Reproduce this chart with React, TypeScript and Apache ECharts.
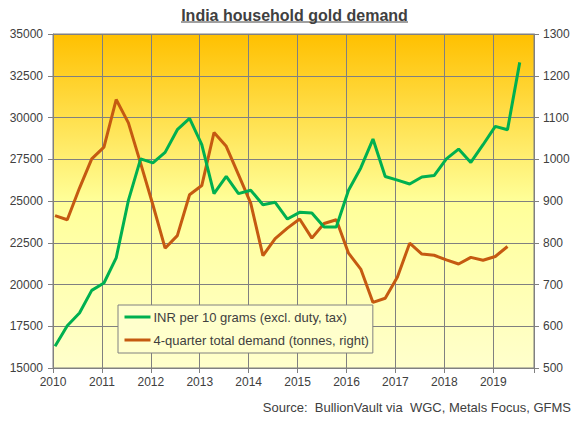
import React, { useEffect, useRef } from "react";
import * as echarts from "echarts";

const quarters = [
  "2010Q1", "2010Q2", "2010Q3", "2010Q4",
  "2011Q1", "2011Q2", "2011Q3", "2011Q4",
  "2012Q1", "2012Q2", "2012Q3", "2012Q4",
  "2013Q1", "2013Q2", "2013Q3", "2013Q4",
  "2014Q1", "2014Q2", "2014Q3", "2014Q4",
  "2015Q1", "2015Q2", "2015Q3", "2015Q4",
  "2016Q1", "2016Q2", "2016Q3", "2016Q4",
  "2017Q1", "2017Q2", "2017Q3", "2017Q4",
  "2018Q1", "2018Q2", "2018Q3", "2018Q4",
  "2019Q1", "2019Q2", "2019Q3",
];

const inrPer10g = [
  16300, 17530, 18290, 19650, 20090, 21590, 25040, 27520, 27280, 27910,
  29270, 29950, 28370, 25440, 26470, 25440, 25640, 24780, 24920, 23920,
  24320, 24280, 23440, 23440, 25640, 26980, 28710, 26470, 26250, 26020,
  26440, 26520, 27520, 28110, 27310, 28370, 29470, 29270, 33300,
];

const demandTonnes = [
  865, 855, 931, 1001, 1029, 1143, 1087, 990, 891, 787,
  817, 915, 937, 1064, 1031, 963, 895, 769, 810, 835,
  857, 811, 846, 855, 775, 737, 657, 667, 718, 799,
  773, 770, 759, 749, 765, 758, 767, 791,
];

const yearTicks = [2010, 2011, 2012, 2013, 2014, 2015, 2016, 2017, 2018, 2019];
const leftAxisRange = [15000, 35000, 2500];
const rightAxisRange = [500, 1300, 100];

const seriesNames = [
  "INR per 10 grams (excl. duty, tax)",
  "4-quarter total demand (tonnes, right)",
];
const seriesColors = ["#00B050", "#C55A11"];
const titleText = "India household gold demand";
const sourceText = "Source:  BullionVault via  WGC, Metals Focus, GFMS";

// quarterly points sit in the middle of the quarter's first month (date axis)
const quarterX = (q: string) => {
  const [y, n] = q.split("Q");
  return Number(y) + ((Number(n) - 1) * 3 + 0.5) / 12;
};

const FONT = "'Liberation Sans', Arial, sans-serif";
const TXT = "#404040";
const GRID = "#808080";

export default function App() {
  const ref = useRef<HTMLDivElement>(null);

  useEffect(() => {
    document.body.style.margin = "0";
    const chart = echarts.init(ref.current!, null, { renderer: "svg" });
    const inrData = inrPer10g.map((v, i) => [quarterX(quarters[i]), v]);
    const demData = demandTonnes.map((v, i) => [quarterX(quarters[i]), v]);
    const plain = (v: number) => String(v);

    chart.setOption({
      animation: false,
      textStyle: { fontFamily: FONT },
      grid: {
        left: 53,
        right: 43,
        top: 34,
        bottom: 55,
        show: true,
        borderColor: GRID,
        borderWidth: 1,
        backgroundColor: new echarts.graphic.LinearGradient(0, 0, 0, 1, [
          { offset: 0, color: "#FFC000" },
          { offset: 0.5, color: "#FFFF99" },
          { offset: 1, color: "#FFFFCC" },
        ]),
      },
      xAxis: {
        type: "value",
        min: yearTicks[0],
        max: yearTicks[yearTicks.length - 1] + 10 / 12,
        interval: 1,
        axisLine: { show: true, lineStyle: { color: GRID, width: 1 } },
        axisTick: { show: true, length: 5, lineStyle: { color: GRID } },
        splitLine: { show: true, lineStyle: { color: GRID, width: 1 } },
        axisLabel: {
          color: TXT,
          fontSize: 12,
          fontFamily: FONT,
          margin: 8,
          formatter: (v: number) =>
            yearTicks.includes(Math.round(v * 1000) / 1000) ? String(Math.round(v)) : "",
        },
      },
      yAxis: [
        {
          type: "value",
          min: leftAxisRange[0],
          max: leftAxisRange[1],
          interval: leftAxisRange[2],
          position: "left",
          axisLine: { show: true, lineStyle: { color: GRID, width: 1 } },
          axisTick: { show: true, length: 5, lineStyle: { color: GRID } },
          splitLine: { show: true, lineStyle: { color: GRID, width: 1 } },
          axisLabel: { color: TXT, fontSize: 12, fontFamily: FONT, margin: 10, formatter: plain },
        },
        {
          type: "value",
          min: rightAxisRange[0],
          max: rightAxisRange[1],
          interval: rightAxisRange[2],
          position: "right",
          axisLine: { show: true, lineStyle: { color: GRID, width: 1 } },
          axisTick: { show: true, length: 5, lineStyle: { color: GRID } },
          splitLine: { show: false },
          axisLabel: { color: TXT, fontSize: 12, fontFamily: FONT, margin: 9, formatter: plain },
        },
      ],
      legend: {
        orient: "vertical",
        left: 118,
        top: 305,
        backgroundColor: "#FFFFCC",
        borderColor: GRID,
        borderWidth: 1,
        borderRadius: 0,
        padding: [5, 4, 6, 6.5],
        itemGap: 9,
        itemWidth: 26,
        itemHeight: 3,
        textStyle: { color: TXT, fontSize: 13, fontFamily: FONT, lineHeight: 14, padding: [0, 0, 0, -2] },
        data: seriesNames.map((name) => ({ name, icon: "rect" })),
      },
      series: [
        {
          name: seriesNames[0],
          type: "line",
          yAxisIndex: 0,
          data: inrData,
          symbol: "none",
          lineStyle: { color: seriesColors[0], width: 3 },
          itemStyle: { color: seriesColors[0] },
          z: 3,
        },
        {
          name: seriesNames[1],
          type: "line",
          yAxisIndex: 1,
          data: demData,
          symbol: "none",
          lineStyle: { color: seriesColors[1], width: 3 },
          itemStyle: { color: seriesColors[1] },
          z: 2,
        },
      ],
      graphic: [
        {
          type: "text",
          style: {
            text: titleText,
            x: 294.5,
            y: 15,
            align: "center",
            verticalAlign: "middle",
            fill: TXT,
            font: `bold 16px ${FONT}`,
          },
        },
        {
          type: "line",
          shape: { x1: 181, y1: 22, x2: 408, y2: 22 },
          style: { stroke: TXT, lineWidth: 1 },
        },
        {
          type: "text",
          style: {
            text: sourceText,
            x: 571,
            y: 407,
            align: "right",
            verticalAlign: "middle",
            fill: TXT,
            font: `13px ${FONT}`,
          },
        },
      ],
    });

    return () => chart.dispose();
  }, []);

  return <div ref={ref} style={{ width: 577, height: 423 }} />;
}
